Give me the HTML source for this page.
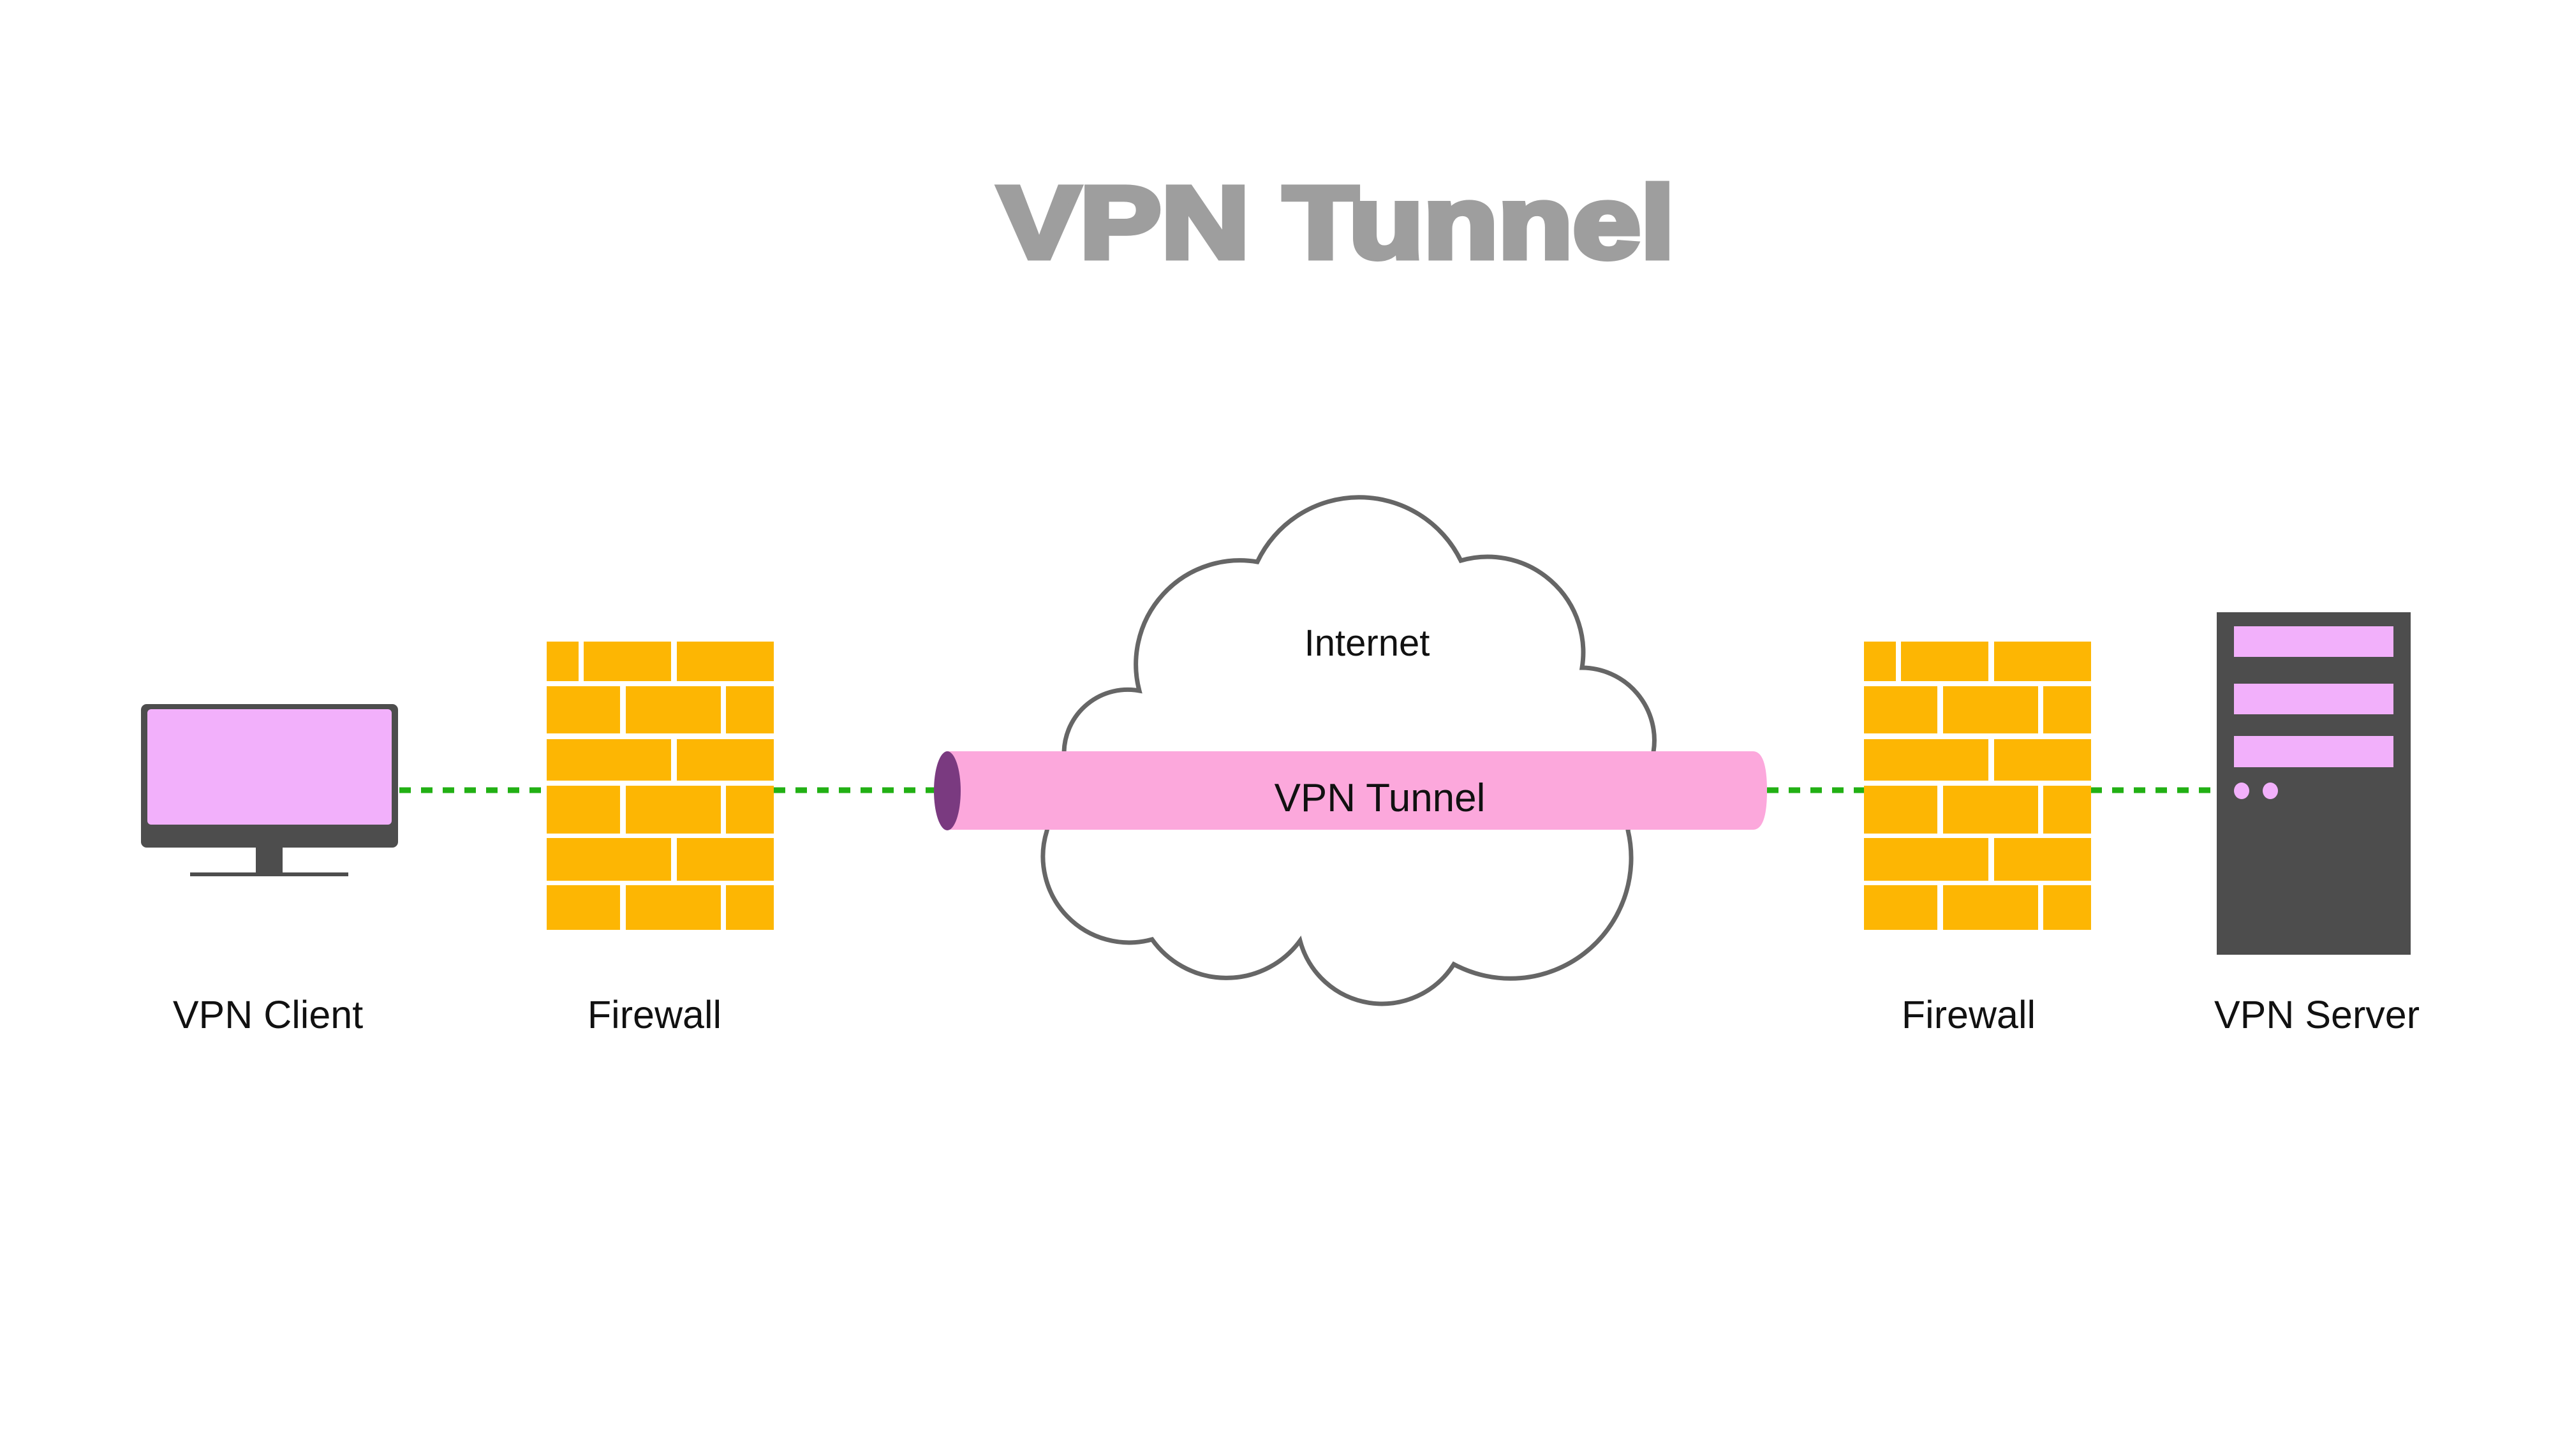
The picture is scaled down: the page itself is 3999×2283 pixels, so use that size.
<!DOCTYPE html>
<html><head><meta charset="utf-8"><style>html,body{margin:0;padding:0;background:#fff}svg{display:block}</style></head>
<body>
<svg width="3999" height="2283" viewBox="0 0 3999 2283" xmlns="http://www.w3.org/2000/svg">
<rect width="3999" height="2283" fill="#fff"/>
<text x="1565" y="404" font-family="Liberation Sans, sans-serif" font-weight="bold" font-size="160" fill="#9e9e9e" stroke="#9e9e9e" stroke-width="9" textLength="1060" lengthAdjust="spacingAndGlyphs">VPN Tunnel</text>

<!-- monitor -->
<rect x="221" y="1104" width="403" height="225" rx="9" fill="#4d4d4d"/>
<rect x="231" y="1112" width="383" height="181" rx="6" fill="#f2b0fb"/>
<rect x="401" y="1327" width="42" height="44" fill="#4d4d4d"/>
<rect x="298" y="1368" width="248" height="6" fill="#4d4d4d"/>

<!-- dotted connectors -->
<g stroke="#22b014" stroke-width="9" stroke-dasharray="18 16">
<line x1="626" y1="1239" x2="857" y2="1239"/>
<line x1="1213" y1="1239" x2="1490" y2="1239"/>
<line x1="2770" y1="1239" x2="2922" y2="1239"/>
<line x1="3277" y1="1239" x2="3475" y2="1239"/>
</g>

<!-- firewalls -->
<defs>
<g id="fw" fill="#fdb603">
<rect x="0" y="0" width="50" height="62"/><rect x="58" y="0" width="137" height="62"/><rect x="204" y="0" width="152" height="62"/>
<rect x="0" y="70" width="115" height="74"/><rect x="124" y="70" width="149" height="74"/><rect x="281" y="70" width="75" height="74"/>
<rect x="0" y="153" width="195" height="65"/><rect x="204" y="153" width="152" height="65"/>
<rect x="0" y="226" width="115" height="75"/><rect x="124" y="226" width="149" height="75"/><rect x="281" y="226" width="75" height="75"/>
<rect x="0" y="308" width="195" height="67"/><rect x="204" y="308" width="152" height="67"/>
<rect x="0" y="382" width="115" height="70"/><rect x="124" y="382" width="149" height="70"/><rect x="281" y="382" width="75" height="70"/>
</g>
</defs>
<use href="#fw" x="857" y="1006"/>
<use href="#fw" x="2922" y="1006"/>

<!-- cloud -->
<path d="M1971,881 A177,177 0 0 1 2290,879 A150,150 0 0 1 2480,1047 A114,114 0 0 1 2592,1179 L2552,1302 A189,189 0 0 1 2279,1512 A133,133 0 0 1 2038,1475 A143,143 0 0 1 1806,1473 A135,135 0 0 1 1641,1303 L1668,1179 A100,100 0 0 1 1786,1083 A163,163 0 0 1 1971,881 Z" fill="#fff" stroke="#666" stroke-width="7" stroke-linejoin="miter"/>
<text x="2143" y="1028" text-anchor="middle" font-family="Liberation Sans, sans-serif" font-size="58" fill="#111">Internet</text>

<!-- tunnel -->
<path d="M1485,1178 L2748,1178 Q2770,1178 2770,1240 Q2770,1301 2748,1301 L1485,1301 Z" fill="#fca8dc"/>
<ellipse cx="1485" cy="1240" rx="21" ry="62" fill="#7a3a80"/>
<text x="2163" y="1272" text-anchor="middle" font-family="Liberation Sans, sans-serif" font-size="62" fill="#111">VPN Tunnel</text>

<!-- server -->
<rect x="3475" y="960" width="304" height="537" fill="#4d4d4d"/>
<rect x="3502" y="982" width="250" height="48" fill="#f2b0fb"/>
<rect x="3502" y="1072" width="250" height="48" fill="#f2b0fb"/>
<rect x="3502" y="1154" width="250" height="49" fill="#f2b0fb"/>
<ellipse cx="3514" cy="1240" rx="12" ry="13" fill="#f2b0fb"/>
<ellipse cx="3559" cy="1240" rx="12" ry="13" fill="#f2b0fb"/>

<!-- labels -->
<g font-family="Liberation Sans, sans-serif" font-size="61" fill="#111" text-anchor="middle">
<text x="420" y="1612">VPN Client</text>
<text x="1026" y="1612">Firewall</text>
<text x="3086" y="1612">Firewall</text>
<text x="3632" y="1612">VPN Server</text>
</g>
</svg>
</body></html>
